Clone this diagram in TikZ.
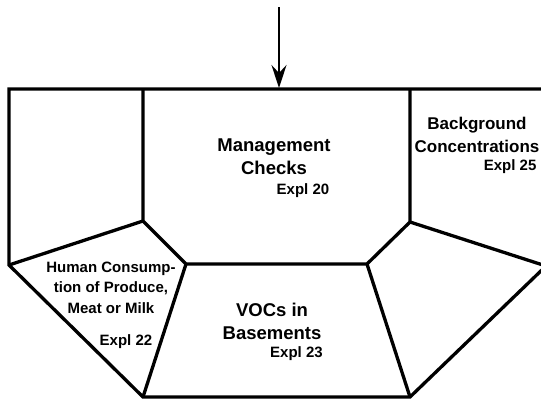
\documentclass[tikz,border=0pt]{standalone}
\usepackage{fontspec}
\setmainfont{Liberation Sans}
\usetikzlibrary{arrows.meta}

\begin{document}
\begin{tikzpicture}[x=1pt, y=-1pt, line width=3.3pt, line join=miter,
	title/.style={font=\bfseries\fontsize{18.5}{23}\selectfont, align=center, inner sep=0pt},
	expl/.style={font=\bfseries\fontsize{15}{17}\selectfont, inner sep=0pt}]
	\clip (0,0) rectangle (541,402);
	% outer frame
	\coordinate (TL) at (9,89);
	\coordinate (TR) at (546,89);
	\coordinate (LB) at (9,265);
	\coordinate (RB) at (546,266);
	\coordinate (BL) at (143,397);
	\coordinate (BR) at (410,397);
	% inner pentagon
	\coordinate (A) at (143,89);
	\coordinate (B) at (410,89);
	\coordinate (P1) at (143,221);
	\coordinate (P2) at (186,264);
	\coordinate (P3) at (367,264);
	\coordinate (P4) at (410,222);
	\coordinate (in) at (279,7);
	\coordinate (out) at (279,88);
	\draw (RB) -- (TR) -- (TL) -- (LB) -- (BL) -- (BR) -- cycle;
	\draw (A) -- (P1) -- (P2) -- (P3) -- (P4) -- (B);
	\draw (LB) -- (P1);
	\draw (P4) -- (RB);
	\draw (P2) -- (BL);
	\draw (P3) -- (BR);
	\draw [line width=2.4pt, -{Stealth[length=23pt,width=15pt,inset=8pt]}] (in) -- (out);
	% labels
	\node[title] (mgmt) at (274,156.5) {Management\\Checks};
	\node[expl] (mgmtx) at (303,191) {Expl 20};
	\node[title, font=\bfseries\fontsize{17}{23}\selectfont] (bkg) at (477,134.5) {Background\\Concentrations};
	\node[expl, anchor=east] (bkgx) at (538,167) {Expl 25};
	\node[title, font=\bfseries\fontsize{15}{20.5}\selectfont] (human) at (111,287.5) {Human Consump-\\tion of Produce,\\Meat or Milk};
	\node[expl] (humanx) at (126,342) {Expl 22};
	\node[title] (vocs) at (272,321.5) {VOCs in\\Basements};
	\node[expl] (vocsx) at (296.5,354) {Expl 23};
\end{tikzpicture}
\end{document}
